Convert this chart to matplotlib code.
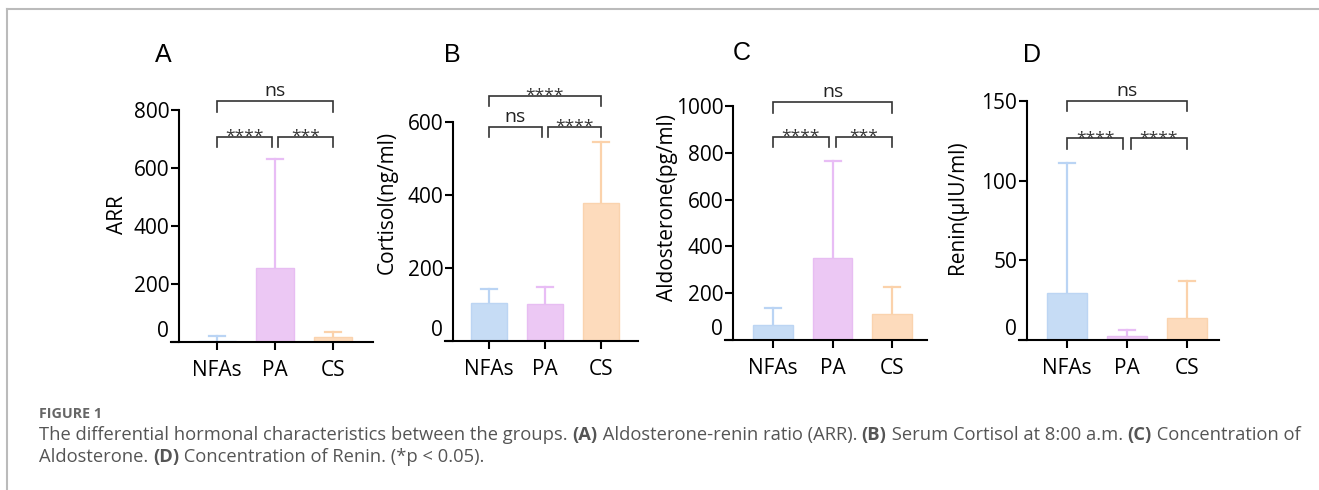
import matplotlib
matplotlib.use('Agg')
import matplotlib.pyplot as plt
import numpy as np
from matplotlib.lines import Line2D

plt.rcParams['font.family'] = ['Open Sans', 'DejaVu Sans']

W, H = 1319, 490

groups = ['NFAs', 'PA', 'CS']

# mean and upper SD
arr_mean = [5, 254, 18]
arr_sd = [15, 377, 18]
cort_mean = [104, 101, 377]
cort_sd = [38, 46, 167]
aldo_mean = [65, 350, 111]
aldo_sd = [70, 416, 114]
renin_mean = [29.3, 2.5, 14]
renin_sd = [82.1, 3.8, 23.2]

ylabels = ['ARR', 'Cortisol(ng/ml)', 'Aldosterone(pg/ml)', 'Renin(μIU/ml)']
letters = ['A', 'B', 'C', 'D']

# significance brackets: (from, to, height, label)
arr_sig = [(0, 2, 831, 'ns'), (0, 0.94, 707, '****'), (1.06, 2, 707, '***')]
cort_sig = [(0, 2, 672, '****'), (0, 0.94, 587, 'ns'), (1.06, 2, 587, '****')]
aldo_sig = [(0, 2, 1017, 'ns'), (0, 0.94, 869, '****'), (1.06, 2, 869, '***')]
renin_sig = [(0, 2, 150, 'ns'), (0, 0.94, 126.5, '****'), (1.06, 2, 126.5, '****')]

bar_colors = ['#c6dcf5', '#ecc8f4', '#fddbbc']
edge_colors = ['#bcd5f3', '#e7bdf2', '#fad3ae']
err_colors = ['#bad4f4', '#e8bdf5', '#fbd2ab']

# pixel layout per panel: y-axis x, x-axis end, top tick y, zero y, first/last bar centre
layout = [
    dict(yx=179, xend=373, ytop=110, y0=342, c0=217, c2=333, ymax=800, step=200, lx=118, ly=215, let=(163, 55)),
    dict(yx=453, xend=638, ytop=122, y0=341, c0=489, c2=601, ymax=600, step=200, lx=387, ly=202, let=(452, 55)),
    dict(yx=733, xend=927, ytop=106, y0=340, c0=773, c2=892, ymax=1000, step=200, lx=667, ly=207, let=(742, 53)),
    dict(yx=1027, xend=1219, ytop=101, y0=340, c0=1067, c2=1187, ymax=150, step=50, lx=957, ly=207, let=(1032, 55)),
]

means = [arr_mean, cort_mean, aldo_mean, renin_mean]
sds = [arr_sd, cort_sd, aldo_sd, renin_sd]
sigs = [arr_sig, cort_sig, aldo_sig, renin_sig]

fig = plt.figure(figsize=(W / 100, H / 100), dpi=100)

for k in range(4):
    L = layout[k]
    ax = fig.add_axes([L['yx'] / W, 1 - L['y0'] / H, (L['xend'] - L['yx']) / W,
                       (L['y0'] - L['ytop']) / H])
    s = (L['c2'] - L['c0']) / 2.0
    left = (L['yx'] - L['c0']) / s
    right = (L['xend'] - L['c0']) / s
    x = np.arange(3)
    ax.bar(x, means[k], width=0.66, color=bar_colors, edgecolor=edge_colors, linewidth=1, zorder=2)
    # upper-only error bars with a cap
    cw = 8.0 / s
    for i in range(3):
        top = means[k][i] + sds[k][i]
        ax.plot([x[i], x[i]], [means[k][i], top], color=err_colors[i], lw=1.6, zorder=1, clip_on=False)
        ax.plot([x[i] - cw, x[i] + cw], [top, top], color=err_colors[i], lw=1.6, zorder=1, clip_on=False)
    ax.set_xlim(left, right)
    ax.set_ylim(0, L['ymax'])
    ax.set_yticks(np.arange(0, L['ymax'] + 1, L['step']))
    ax.set_xticks(x)
    ax.set_xticklabels(groups)
    ax.spines['top'].set_visible(False)
    ax.spines['right'].set_visible(False)
    ax.spines['left'].set_linewidth(1.5)
    ax.spines['bottom'].set_linewidth(1.5)
    ax.spines['bottom'].set_bounds(left - 8 / s, right)
    ax.tick_params(axis='both', width=1.5, length=6, labelsize=15, colors='black')
    ax.tick_params(axis='y', pad=1)
    ax.tick_params(axis='x', pad=7)
    ax.patch.set_alpha(0)
    ax.get_yticklabels()[0].set_va('bottom')

    ax.set_ylabel(ylabels[k], fontsize=15)
    ax.yaxis.set_label_coords((L['lx'] - L['yx']) / (L['xend'] - L['yx']),
                              (L['y0'] - L['ly']) / (L['y0'] - L['ytop']))
    ax.yaxis.label.set_va('center')

    drop = 10.5 * L['ymax'] / (L['y0'] - L['ytop'])
    for a, b, h, lab in sigs[k]:
        ax.plot([a, a, b, b], [h - drop, h, h, h - drop], color='#333333', lw=1.2,
                clip_on=False, solid_joinstyle='miter')
        if lab == 'ns':
            ax.annotate(lab, xy=((a + b) / 2, h), xytext=(0, 5 * 0.72), textcoords='offset points',
                        ha='center', va='baseline', fontsize=14, color='#222222', annotation_clip=False)
        else:
            ax.annotate(lab, xy=((a + b) / 2, h), xytext=(0, -4 * 0.72), textcoords='offset points',
                        ha='center', va='baseline', fontsize=12.5, color='#333333', annotation_clip=False)

    fig.text(L['let'][0] / W, 1 - L['let'][1] / H, letters[k], fontsize=18,
             family='Liberation Sans', ha='center', va='center')

# grey frame
fig.add_artist(Line2D([7 / W, 1], [1 - 9 / H, 1 - 9 / H], color='#bbbbbb', lw=1.5))
fig.add_artist(Line2D([7 / W, 7 / W], [0, 1 - 9 / H], color='#bbbbbb', lw=1.5))

# caption
fig.text(39 / W, 1 - 414 / H, 'FIGURE 1', fontsize=10.3, weight='bold', color='#666666', va='center')
cap1 = [('The differential hormonal characteristics between the groups. ', False), ('(A)', True),
        (' Aldosterone-renin ratio (ARR). ', False), ('(B)', True),
        (' Serum Cortisol at 8:00 a.m. ', False), ('(C)', True), (' Concentration of', False)]
cap2 = [('Aldosterone. ', False), ('(D)', True), (' Concentration of Renin. (*p < 0.05).', False)]
renderer = fig.canvas.get_renderer()
for parts, py in [(cap1, 435), (cap2, 457)]:
    xp = 39
    for seg, bold in parts:
        t = fig.text(xp / W, 1 - py / H, seg, fontsize=13.2, color='#555555', va='center',
                     weight='bold' if bold else 'normal')
        xp = t.get_window_extent(renderer).x1

fig.savefig('out.png', dpi=100)
